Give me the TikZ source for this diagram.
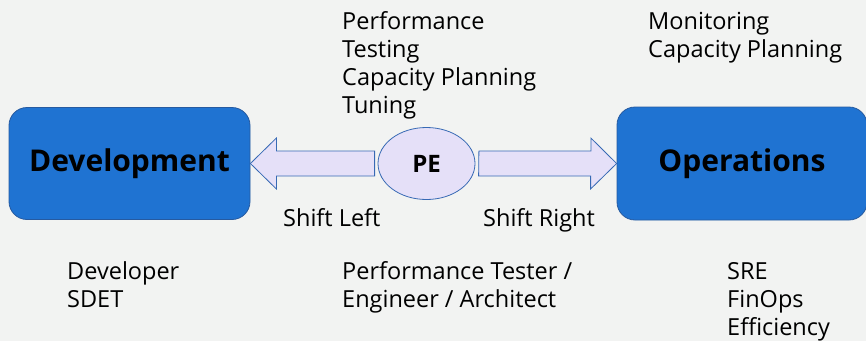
\documentclass[tikz,border=0pt]{standalone}
\usepackage{fontspec}
\setmainfont{Open Sans}
\usetikzlibrary{shapes.geometric,calc}
\definecolor{bg}{RGB}{242,243,242}
\definecolor{boxblue}{RGB}{31,115,210}
\definecolor{boxedge}{RGB}{38,90,160}
\definecolor{arrfill}{RGB}{229,224,248}
\definecolor{arredge}{RGB}{55,105,180}
\tikzset{
  bigbox/.style={draw=boxedge, line width=0.8pt, fill=boxblue, rounded corners=18pt, inner sep=0pt,
    font=\fontsize{30}{36}\selectfont\bfseries},
  bigarrow/.style={draw=arredge, line width=0.8pt, fill=arrfill},
  pebox/.style={draw=arredge, line width=0.8pt, fill=arrfill, ellipse, inner sep=0pt,
    font=\fontsize{24}{28}\selectfont\bfseries},
  label/.style={inner sep=0pt, align=left, anchor=base west, font=\fontsize{23.5}{28}\selectfont},
}
\begin{document}
\begin{tikzpicture}[x=1pt,y=-1pt]
\fill[bg] (0,0) rectangle (866,341);
\useasboundingbox (0,0) rectangle (866,341);
\node[bigbox, minimum width=241pt, minimum height=112pt] (dev) at (129.5,163.5) {Development};
\node[bigbox, minimum width=250pt, minimum height=113pt] (ops) at (742,163.5) {Operations};
\node[pebox, minimum width=97pt, minimum height=72pt] (pe) at (426.5,163.5) {PE};
% left arrow
\draw[bigarrow] (dev.east) -- ++(26,-25.5) -- ++(0,13) -- ($(pe.west)+(-3,-12.5)$) -- ++(0,25) -- ($(dev.east)+(26,12.5)$) -- ++(0,13) -- cycle;
% right arrow
\draw[bigarrow] ($(pe.east)+(3.5,-12.5)$) -- ++(112,0) -- ++(0,-13) -- (ops.west) -- ++(-26,25.5) -- ++(0,-13) -- ++(-112,0) -- cycle;
\node[label] (sl) at (283,226) {Shift Left};
\node[label] (sr) at (483,226) {Shift Right};
\node[label] (pt) at (342,113) {Performance\\Testing\\Capacity Planning\\Tuning};
\node[label] (mo) at (648,57) {Monitoring\\Capacity Planning};
\node[label] (de) at (67,307.5) {Developer\\SDET};
\node[label] (pr) at (342,307.5) {Performance Tester /\\Engineer / Architect};
\node[label] (sre) at (727,335.5) {SRE\\FinOps\\Efficiency};
\end{tikzpicture}
\end{document}
